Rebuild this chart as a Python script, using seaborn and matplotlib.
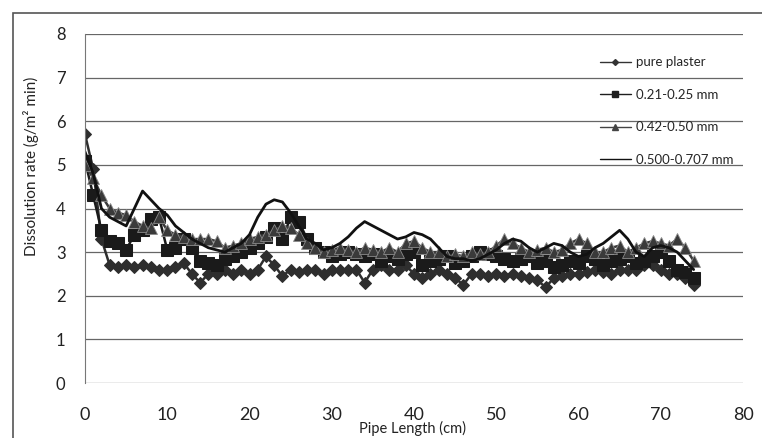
import matplotlib
matplotlib.use("Agg")
import matplotlib.pyplot as plt
import seaborn as sns
import numpy as np
from matplotlib.lines import Line2D
from matplotlib.patches import Rectangle

pipe_length = list(range(0, 75))

pure_plaster = [5.7, 4.9, 3.3, 2.7, 2.65, 2.7, 2.65, 2.7, 2.65, 2.6, 2.6, 2.65, 2.75, 2.5, 2.3,
                2.5, 2.5, 2.6, 2.5, 2.6, 2.5, 2.6, 2.9, 2.7, 2.45, 2.6, 2.55, 2.6, 2.6, 2.5,
                2.6, 2.6, 2.6, 2.6, 2.3, 2.6, 2.7, 2.6, 2.6, 2.7, 2.5, 2.4, 2.5, 2.6, 2.5,
                2.4, 2.25, 2.5, 2.5, 2.45, 2.5, 2.45, 2.5, 2.45, 2.4, 2.35, 2.2, 2.4, 2.45, 2.5,
                2.5, 2.55, 2.6, 2.55, 2.5, 2.6, 2.6, 2.6, 2.7, 2.7, 2.6, 2.5, 2.5, 2.4, 2.25]

mm_021_025 = [5.1, 4.3, 3.5, 3.25, 3.2, 3.05, 3.4, 3.5, 3.75, 3.8, 3.05, 3.1, 3.3, 3.1, 2.8,
              2.75, 2.7, 2.85, 2.9, 3.0, 3.1, 3.2, 3.35, 3.55, 3.3, 3.8, 3.7, 3.3, 3.1, 3.0,
              2.9, 2.95, 3.0, 2.95, 2.9, 2.95, 2.8, 2.9, 2.85, 2.95, 3.0, 2.7, 2.8, 2.85, 2.9,
              2.75, 2.8, 2.9, 3.0, 2.95, 2.9, 2.85, 2.8, 2.85, 2.9, 2.75, 2.8, 2.65, 2.7, 2.8,
              2.75, 2.9, 2.85, 2.7, 2.8, 2.85, 2.9, 2.75, 2.8, 2.9, 3.0, 2.8, 2.6, 2.55, 2.4]

mm_042_050 = [5.0, 4.7, 4.3, 4.0, 3.9, 3.85, 3.7, 3.6, 3.55, 3.8, 3.5, 3.4, 3.35, 3.3, 3.3,
              3.3, 3.25, 3.1, 3.15, 3.2, 3.3, 3.35, 3.4, 3.5, 3.6, 3.55, 3.4, 3.2, 3.1, 3.0,
              3.05, 3.1, 3.05, 3.0, 3.1, 3.05, 3.0, 3.1, 3.0, 3.2, 3.25, 3.1, 3.0, 3.0, 2.9,
              2.95, 2.9, 3.0, 2.95, 3.0, 3.15, 3.3, 3.2, 3.1, 3.0, 3.05, 3.1, 3.0, 3.05, 3.2,
              3.3, 3.2, 3.0, 3.0, 3.1, 3.15, 3.0, 3.1, 3.2, 3.25, 3.2, 3.15, 3.3, 3.1, 2.8]

mm_0500_0707 = [5.3, 4.8, 4.0, 3.8, 3.7, 3.6, 4.0, 4.4, 4.2, 4.0, 3.85, 3.6, 3.45, 3.3, 3.2,
                3.1, 3.05, 3.0, 3.1, 3.2, 3.4, 3.8, 4.1, 4.2, 4.15, 3.9, 3.6, 3.3, 3.2, 3.05,
                3.1, 3.2, 3.35, 3.55, 3.7, 3.6, 3.5, 3.4, 3.3, 3.35, 3.45, 3.4, 3.3, 3.1, 2.9,
                2.85, 2.85, 2.8, 2.85, 2.95, 3.05, 3.2, 3.3, 3.25, 3.1, 3.0, 3.1, 3.2, 3.15, 3.0,
                2.9, 2.95, 3.1, 3.2, 3.35, 3.5, 3.3, 3.0, 2.9, 3.1, 3.15, 3.1, 3.0, 2.8, 2.6]

labels = ["pure plaster", "0.21-0.25 mm", "0.42-0.50 mm", "0.500-0.707 mm"]
x_ticks = [0, 10, 20, 30, 40, 50, 60, 70, 80]
y_ticks = [0, 1, 2, 3, 4, 5, 6, 7, 8]

sns.set_style("white")
plt.rcParams['font.family'] = ['Lato', 'DejaVu Sans']

fig = plt.figure(figsize=(7.62, 4.38), dpi=100)
ax = fig.add_axes([85 / 762, 1 - 383 / 438, (743 - 85) / 762, (383 - 34) / 438])

sns.lineplot(x=pipe_length, y=pure_plaster, ax=ax, color="#2e2e2e", lw=1.8,
             marker="D", markersize=6.5, markeredgecolor="#2e2e2e", label=labels[0])
sns.lineplot(x=pipe_length, y=mm_021_025, ax=ax, color="#1a1a1a", lw=1.8,
             marker="s", markersize=8, markeredgecolor="#1a1a1a", label=labels[1])
sns.lineplot(x=pipe_length, y=mm_042_050, ax=ax, color="#3a3a3a", lw=1.8,
             marker="^", markersize=8, markeredgecolor="#8a8a8a", markeredgewidth=0.6,
             label=labels[2])
sns.lineplot(x=pipe_length, y=mm_0500_0707, ax=ax, color="#111111", lw=2.0,
             label=labels[3])

ax.set_xlim(0, 80)
ax.set_ylim(0, 8)
ax.set_xticks(x_ticks)
ax.set_yticks(y_ticks)
ax.tick_params(axis="x", length=0, pad=17, labelsize=13, colors="#222222")
ax.tick_params(axis="y", length=0, pad=14, labelsize=12, colors="#222222")
ax.grid(axis="y", color="#666666", lw=0.9)
ax.grid(axis="x", visible=False)
for s in ["top", "right", "bottom"]:
    ax.spines[s].set_visible(False)
ax.spines["left"].set_color("#777777")
ax.spines["left"].set_linewidth(0.8)

ax.set_xlabel("Pipe Length (cm)", fontsize=10.5, color="#222222")
ax.xaxis.set_label_coords(0.497, -0.11)
ax.set_ylabel("Dissolution rate (g/m² min)", fontsize=11, color="#222222")
ax.yaxis.set_label_coords(-0.07, 0.62)

handles = [
    Line2D([], [], color="#333333", lw=1.0, marker="D", markersize=3),
    Line2D([], [], color="#1e1e1e", lw=1.0, marker="s", markersize=4),
    Line2D([], [], color="#444444", lw=1.0, marker="^", markersize=4),
    Line2D([], [], color="#111111", lw=1.0),
]
leg = ax.legend(handles, labels, loc="upper left", bbox_to_anchor=(0.765, 0.97),
                frameon=False, labelspacing=1.55, handlelength=2.3,
                handletextpad=0.4,
                prop={"family": ["Liberation Sans Narrow", "Lato"], "size": 9.5})

fig.add_artist(Rectangle((13 / 762, -0.1), 1.2, 1 - 13 / 438 + 0.1, transform=fig.transFigure,
                         fill=False, edgecolor="#555555", lw=1.2))

fig.savefig("out.png", dpi=100)
